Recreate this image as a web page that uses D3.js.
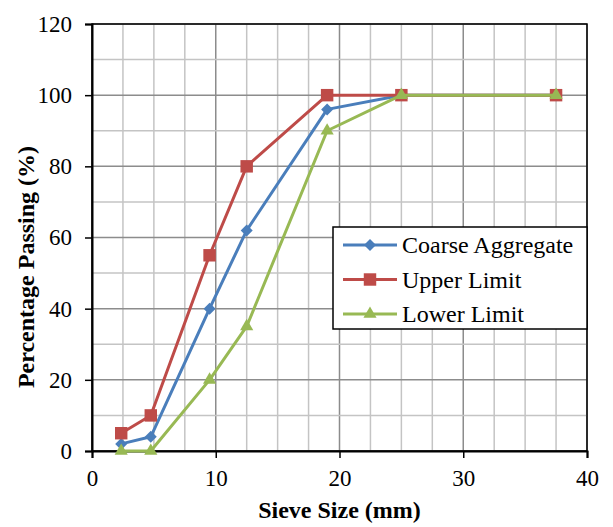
<!DOCTYPE html>
<html>
<head>
<meta charset="utf-8">
<script src="https://cdn.jsdelivr.net/npm/d3@7"></script>
<style>
  html, body { margin: 0; padding: 0; background: #fff; }
  svg { display: block; font-family: "Liberation Serif", "Times New Roman", serif; }
</style>
</head>
<body>
<svg id="chart" width="613" height="527"></svg>
<script>
// Sieve sizes (mm) and percentage passing for each gradation curve
const sieveSizes = [2.36, 4.75, 9.5, 12.5, 19, 25, 37.5];
const coarseAggregate = [2, 4, 40, 62, 96, 100, 100];
const upperLimit = [5, 10, 55, 80, 100, 100, 100];
const lowerLimit = [0, 0, 20, 35, 90, 100, 100];
const xTicks = [0, 10, 20, 30, 40];
const yTicks = [0, 20, 40, 60, 80, 100, 120];
const seriesNames = ["Coarse Aggregate", "Upper Limit", "Lower Limit"];

// Diamonds are squares turned by 45 degrees
const series = [
  { name: seriesNames[0], values: coarseAggregate, color: "#4a7ebb", symbol: d3.symbolSquare, size: 72, rot: 45 },
  { name: seriesNames[1], values: upperLimit, color: "#be4b48", symbol: d3.symbolSquare, size: 155, rot: 0 },
  { name: seriesNames[2], values: lowerLimit, color: "#98b954", symbol: d3.symbolTriangle, size: 75, rot: 0 }
];

const svg = d3.select("#chart");
const margin = { left: 92, top: 24, right: 26, bottom: 76 };
const W = 613, H = 527;
const x = d3.scaleLinear().domain([0, 40]).range([margin.left, W - margin.right]);
const y = d3.scaleLinear().domain([0, 120]).range([H - margin.bottom, margin.top]);

// Grid: minor every 2.5 mm / 10 %, major every 10 mm / 20 %
const g = svg.append("g");
d3.range(0, 40.01, 2.5).forEach(v => {
  const major = Math.abs(v % 10) < 1e-6;
  g.append("line").attr("x1", x(v)).attr("x2", x(v)).attr("y1", y(0)).attr("y2", y(120))
    .attr("stroke", major ? "#8c8c8c" : "#c4c4c4").attr("stroke-width", 1.5);
});
d3.range(0, 120.01, 10).forEach(v => {
  const major = v % 20 === 0;
  g.append("line").attr("x1", x(0)).attr("x2", x(40)).attr("y1", y(v)).attr("y2", y(v))
    .attr("stroke", major ? "#8c8c8c" : "#c4c4c4").attr("stroke-width", 1.5);
});

// Plot frame
svg.append("rect").attr("x", x(0)).attr("y", y(120)).attr("width", x(40) - x(0)).attr("height", y(0) - y(120))
  .attr("fill", "none").attr("stroke", "#000").attr("stroke-width", 1.5);

// Axes
const xAxis = d3.axisBottom(x).tickValues(xTicks).tickSize(7).tickPadding(12);
const yAxis = d3.axisLeft(y).tickValues(yTicks).tickSize(7).tickPadding(13);
const gx = svg.append("g").attr("transform", `translate(0,${y(0)})`).call(xAxis);
const gy = svg.append("g").attr("transform", `translate(${x(0)},0)`).call(yAxis);
[gx, gy].forEach(a => {
  a.select(".domain").attr("stroke", "#000").attr("stroke-width", 2);
  a.selectAll(".tick line").attr("stroke", "#000").attr("stroke-width", 1.5);
  a.selectAll(".tick text").attr("fill", "#000").style("font-size", "23px")
    .style("font-family", "Liberation Serif, Times New Roman, serif");
});

// Axis titles
svg.append("text").attr("x", x(20)).attr("y", 518).attr("text-anchor", "middle")
  .style("font-weight", "bold").style("font-size", "24px").text("Sieve Size (mm)");
svg.append("text").attr("transform", "translate(34,267) rotate(-90)").attr("text-anchor", "middle")
  .style("font-weight", "bold").style("font-size", "24px").text("Percentage Passing (%)");

// Series lines and markers
const line = d3.line().x((d, i) => x(sieveSizes[i])).y(d => y(d));
series.forEach(s => {
  svg.append("path").datum(s.values).attr("d", line)
    .attr("fill", "none").attr("stroke", s.color).attr("stroke-width", 3).attr("stroke-linejoin", "round");
  svg.selectAll(null).data(s.values).enter().append("path")
    .attr("d", d3.symbol().type(s.symbol).size(s.size))
    .attr("transform", (d, i) => `translate(${x(sieveSizes[i])},${y(d)}) rotate(${s.rot})`)
    .attr("fill", s.color);
});

// Legend
const lg = svg.append("g").attr("transform", "translate(333,227)");
lg.append("rect").attr("width", 254).attr("height", 102).attr("fill", "#fff").attr("stroke", "#000").attr("stroke-width", 1.5);
series.forEach((s, i) => {
  const cy = 18 + i * 34.5;
  lg.append("line").attr("x1", 10).attr("x2", 64).attr("y1", cy).attr("y2", cy)
    .attr("stroke", s.color).attr("stroke-width", 3);
  lg.append("path").attr("d", d3.symbol().type(s.symbol).size(s.size))
    .attr("transform", `translate(37,${cy}) rotate(${s.rot})`).attr("fill", s.color);
  lg.append("text").attr("x", 69).attr("y", cy).attr("dy", "0.35em")
    .style("font-size", "24px").text(s.name);
});
</script>
</body>
</html>
